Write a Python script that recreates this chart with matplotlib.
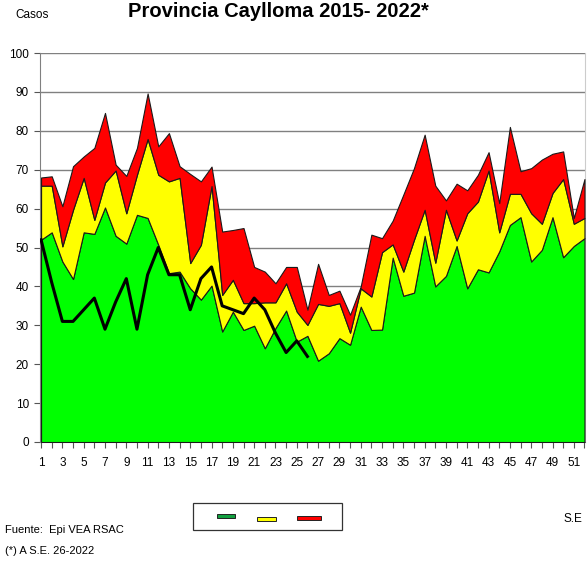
import matplotlib
matplotlib.use("Agg")
import matplotlib.pyplot as plt
from matplotlib.patches import Rectangle
import numpy as np

weeks = list(range(1, 53))
# corridor boundaries (cumulative tops)
q1_success = [52, 53.9, 46.4, 41.9, 53.9, 53.5, 60.3, 53, 51, 58.4, 57.6, 50.7, 43.4, 43.8,
              39.5, 36.6, 40.2, 28.4, 33.5, 28.8, 29.9, 24.1, 29.3, 33.8, 25.8, 27.3, 20.9,
              22.8, 26.7, 25, 34.8, 28.8, 28.9, 47.4, 37.6, 38.4, 53, 40, 42.7, 50.4, 39.5,
              44.4, 43.6, 49, 55.8, 57.8, 46.4, 49.4, 57.8, 47.5, 50.4, 52.4]
median_safety = [65.9, 65.9, 50.3, 59.7, 67.9, 57.1, 66.7, 69.8, 58.8, 68.7, 77.9, 68.7, 67,
                 67.9, 46, 50.7, 65.8, 37.8, 41.7, 35.7, 35.7, 35.9, 35.9, 40.8, 33.5, 30.1,
                 35.5, 35, 35.7, 28.1, 39.5, 37.4, 48.8, 50.8, 43.8, 52, 59.7, 46.1, 59.7,
                 51.8, 58.8, 61.8, 69.8, 53.9, 63.8, 63.8, 58.8, 56.1, 64, 67.6, 56.1, 57.6]
q3_alarm = [68, 68.3, 60.6, 70.9, 73.4, 75.6, 84.6, 71.3, 68.4, 75.6, 89.6, 76, 79.4, 70.9,
            68.9, 67, 70.8, 54.1, 54.5, 55, 45, 43.8, 40.8, 45, 45, 34, 45.8, 37.8, 38.9,
            32.7, 40, 53.3, 52.4, 56.9, 63.6, 70.4, 79, 65.9, 62.1, 66.4, 64.7, 68.7, 74.5,
            61.4, 81, 69.6, 70.4, 72.6, 74.1, 74.7, 57.6, 67.6]
weeks_2022 = list(range(1, 27))
cases_2022 = [52, 41, 31, 31, 34, 37, 29, 36, 42, 29, 43, 50, 43, 43, 34, 42, 45, 35, 34, 33,
              37, 34, 28, 23, 26, 22]

xtick_labels = [str(w) for w in range(1, 53, 2)]
yticks = list(range(0, 101, 10))

fam = ['Liberation Sans Narrow', 'Liberation Sans', 'DejaVu Sans']
plt.rcParams['font.family'] = fam

fig = plt.figure(figsize=(5.87, 5.61), dpi=100)
ax = fig.add_axes([40/587, 119/561, 545/587, 389/561])

edge = dict(edgecolor='#1a1a1a', linewidth=0.8)
ax.fill_between(weeks, 0, q1_success, facecolor='#00FF00', **edge, zorder=3)
ax.fill_between(weeks, q1_success, median_safety, facecolor='#FFFF00', **edge, zorder=3)
ax.fill_between(weeks, median_safety, q3_alarm, facecolor='#FF0000', **edge, zorder=3)
ax.plot(weeks_2022, cases_2022, color='black', lw=2.2, zorder=5)

ax.set_xlim(0.9, 52.05)
ax.set_ylim(0, 100)
ax.set_yticks(yticks)
ax.set_yticklabels([str(v) for v in yticks], fontsize=8.5)
ax.set_xticks(list(range(1, 53, 2)))
ax.set_xticklabels(xtick_labels, fontsize=8.5)
ax.set_xticks(weeks, minor=True)
ax.tick_params(axis='both', which='both', direction='out', length=4, width=0.8, color='#555555')
ax.tick_params(axis='x', pad=7)
ax.tick_params(axis='y', pad=4)
ax.grid(axis='y', color='#808080', linewidth=1.0, zorder=1)
ax.set_axisbelow(True)
ax.spines['top'].set_visible(False)
ax.spines['right'].set_color('#cccccc')
ax.spines['left'].set_color('#808080')
ax.spines['bottom'].set_color('#808080')

fig.text(278/587, 1 - 17/561, "Provincia Caylloma 2015- 2022*", ha='center', va='baseline',
         fontsize=14.5, fontweight='bold')
fig.text(15/587, 1 - 18/561, "Casos", ha='left', va='baseline', fontsize=8.5)
fig.text(5/587, 1 - 533/561, "Fuente:  Epi VEA RSAC", ha='left', va='baseline', fontsize=8)
fig.text(5/587, 1 - 554/561, "(*) A S.E. 26-2022", ha='left', va='baseline', fontsize=8)
fig.text(563/587, 1 - 522/561, "S.E", ha='left', va='baseline', fontsize=8.5)

# legend box (no text labels, as in original)
def px_rect(x0, y0, x1, y1, **kw):
    return Rectangle((x0/587, 1 - y1/561), (x1-x0)/587, (y1-y0)/561,
                     transform=fig.transFigure, **kw)

fig.patches.append(px_rect(193, 503, 342, 530, facecolor='white', edgecolor='#333333', linewidth=0.9))
fig.patches.append(px_rect(217, 514, 235, 518, facecolor='#12a040', edgecolor='#222222', linewidth=0.7))
fig.patches.append(px_rect(257, 517, 276, 521, facecolor='#FFFF00', edgecolor='#222222', linewidth=0.7))
fig.patches.append(px_rect(297, 516, 321, 520, facecolor='#FF0000', edgecolor='#222222', linewidth=0.7))

fig.savefig("out.png", dpi=100)
